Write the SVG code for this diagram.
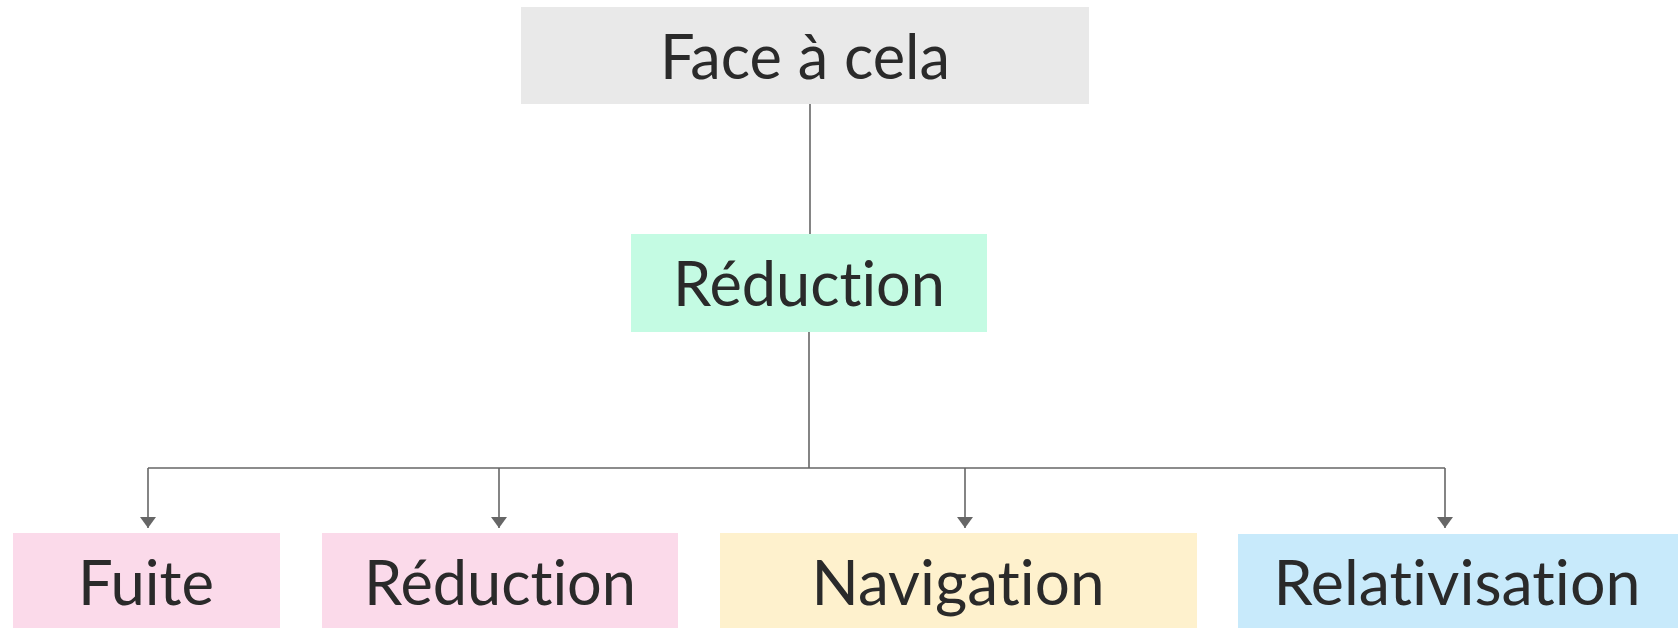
<svg xmlns="http://www.w3.org/2000/svg" width="1678" height="628" viewBox="0 0 1678 628">
  <defs>
    <style>
      .lbl { font-family: Lato, "Open Sans", "Liberation Sans", sans-serif; font-size: 62px; fill: #2a2a2a; text-anchor: middle; font-variant-ligatures: none; font-feature-settings: "liga" 0, "clig" 0; }
      .wire { stroke: #666666; stroke-width: 1.6; fill: none; }
    </style>
    <marker id="arrow" viewBox="0 0 11 16" refX="11" refY="8" markerWidth="11" markerHeight="16" markerUnits="userSpaceOnUse" orient="auto">
      <path d="M0,0 L11,8 L0,16 Z" fill="#666666"/>
    </marker>
  </defs>
  <rect width="1678" height="628" fill="#ffffff"/>

  <g id="connectors">
    <line class="wire" x1="810" y1="104" x2="810" y2="234"/>
    <line class="wire" x1="809" y1="332" x2="809" y2="468"/>
    <line class="wire" x1="148" y1="468" x2="1445" y2="468"/>
    <line class="wire" x1="148" y1="468" x2="148" y2="528" marker-end="url(#arrow)"/>
    <line class="wire" x1="499" y1="468" x2="499" y2="528" marker-end="url(#arrow)"/>
    <line class="wire" x1="965" y1="468" x2="965" y2="528" marker-end="url(#arrow)"/>
    <line class="wire" x1="1445" y1="468" x2="1445" y2="528" marker-end="url(#arrow)"/>
  </g>

  <g id="node-face">
    <rect x="521" y="7" width="568" height="97" fill="#e9e9e9"/>
    <text class="lbl" x="805" y="79" textLength="290" lengthAdjust="spacingAndGlyphs">Face à cela</text>
  </g>

  <g id="node-reduction">
    <rect x="631" y="234" width="356" height="98" fill="#c4fbe3"/>
    <text class="lbl" x="809" y="306" textLength="272" lengthAdjust="spacingAndGlyphs">Réduction</text>
  </g>

  <g id="node-fuite">
    <rect x="13" y="533" width="267" height="95" fill="#fbdaea"/>
    <text class="lbl" x="146" y="605" textLength="136" lengthAdjust="spacingAndGlyphs">Fuite</text>
  </g>

  <g id="node-reduction-2">
    <rect x="322" y="533" width="356" height="95" fill="#fbdaea"/>
    <text class="lbl" x="500" y="605" textLength="272" lengthAdjust="spacingAndGlyphs">Réduction</text>
  </g>

  <g id="node-navigation">
    <rect x="720" y="533" width="477" height="95" fill="#fef1cd"/>
    <text class="lbl" x="958" y="605" textLength="293" lengthAdjust="spacingAndGlyphs">Navigation</text>
  </g>

  <g id="node-relativisation">
    <rect x="1238" y="534" width="440" height="94" fill="#c8eafb"/>
    <text class="lbl" x="1457" y="605" textLength="367" lengthAdjust="spacingAndGlyphs">Relativisation</text>
  </g>
</svg>
